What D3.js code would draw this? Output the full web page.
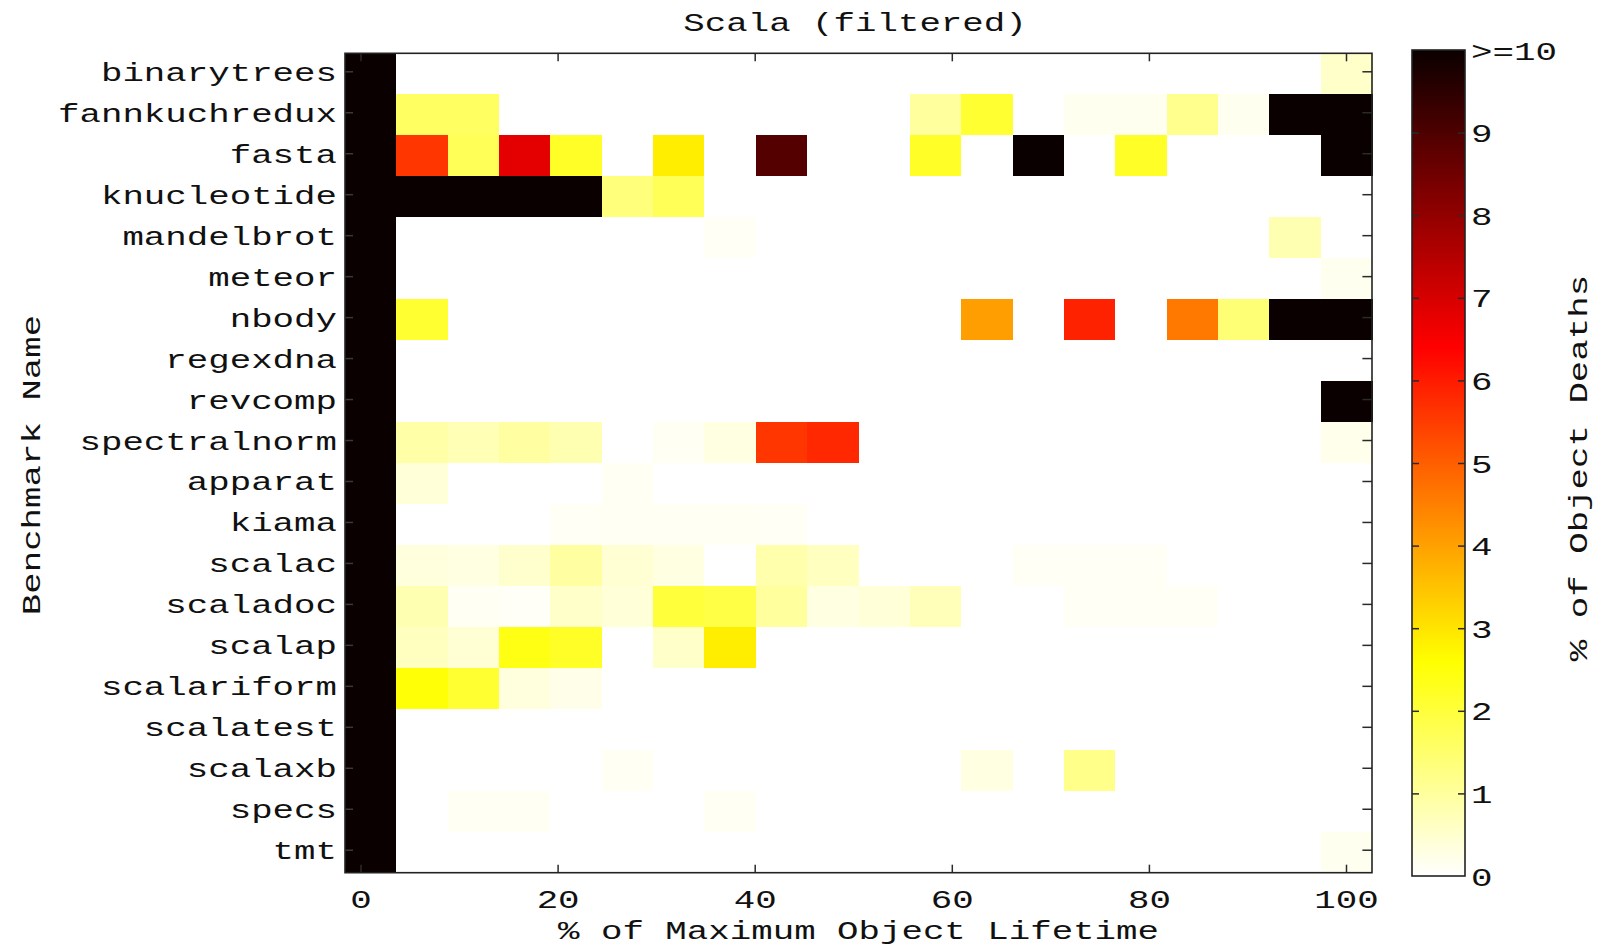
<!DOCTYPE html>
<html>
<head>
<meta charset="utf-8">
<script src="https://cdn.jsdelivr.net/npm/d3@7/dist/d3.min.js"></script>
<style>
  html, body { margin: 0; padding: 0; background: #ffffff; }
  svg { display: block; }
  text { font-family: "Liberation Mono", "Courier New", monospace; fill: #111; }
</style>
</head>
<body>
<svg id="chart" width="1602" height="948"></svg>
<script>
// Benchmarks, top to bottom
const benchmarks = [
  "binarytrees", "fannkuchredux", "fasta", "knucleotide", "mandelbrot",
  "meteor", "nbody", "regexdna", "revcomp", "spectralnorm",
  "apparat", "kiama", "scalac", "scaladoc", "scalap",
  "scalariform", "scalatest", "scalaxb", "specs", "tmt"
];

// Lifetime bins (20 equal slices of the maximum object lifetime)
const bins = d3.range(20);

// % of object deaths per benchmark and bin (10 stands for ">=10")
const binarytrees   = [10,0,0,0,0,0,0,0,0,0,0,0,0,0,0,0,0,0,0,0.55];
const fannkuchredux = [10,1.6,1.6,0,0,0,0,0,0,0,0,1.0,2.1,0,0.15,0.15,1.15,0.15,10,10];
const fasta         = [10,5.6,1.7,6.8,2.2,0,2.85,0,8.9,0,0,2.2,0,10,0,2.2,0,0,0,10];
const knucleotide   = [10,10,10,10,10,1.35,1.7,0,0,0,0,0,0,0,0,0,0,0,0,0];
const mandelbrot    = [10,0,0,0,0,0,0,0.1,0,0,0,0,0,0,0,0,0,0,0.8,0];
const meteor        = [10,0,0,0,0,0,0,0,0,0,0,0,0,0,0,0,0,0,0,0.15];
const nbody         = [10,2.1,0,0,0,0,0,0,0,0,0,0,4.05,0,5.9,0,4.6,1.4,10,10];
const regexdna      = [10,0,0,0,0,0,0,0,0,0,0,0,0,0,0,0,0,0,0,0];
const revcomp       = [10,0,0,0,0,0,0,0,0,0,0,0,0,0,0,0,0,0,0,10];
const spectralnorm  = [10,0.9,0.75,0.95,0.8,0,0.12,0.3,5.6,5.8,0,0,0,0,0,0,0,0,0,0.2];
const apparat       = [10,0.4,0,0,0,0.12,0,0,0,0,0,0,0,0,0,0,0,0,0,0];
const kiama         = [10,0,0,0,0.1,0.12,0.12,0.12,0.1,0,0,0,0,0,0,0,0,0,0,0];
const scalac        = [10,0.35,0.3,0.5,0.95,0.45,0.3,0,0.85,0.65,0,0,0,0.1,0.1,0.1,0,0,0,0];
const scaladoc      = [10,0.8,0.12,0.08,0.55,0.4,2.0,1.9,1.0,0.3,0.4,0.7,0,0,0.1,0.1,0.1,0,0,0];
const scalap        = [10,0.65,0.45,2.4,2.2,0,0.55,2.85,0,0,0,0,0,0,0,0,0,0,0,0];
const scalariform   = [10,2.55,2.1,0.35,0.22,0,0,0,0,0,0,0,0,0,0,0,0,0,0,0];
const scalatest     = [10,0,0,0,0,0,0,0,0,0,0,0,0,0,0,0,0,0,0,0];
const scalaxb       = [10,0,0,0,0,0.12,0,0,0,0,0,0,0.3,0,1.2,0,0,0,0,0];
const specs         = [10,0,0.12,0.12,0,0,0,0.12,0,0,0,0,0,0,0,0,0,0,0,0];
const tmt           = [10,0,0,0,0,0,0,0,0,0,0,0,0,0,0,0,0,0,0,0.15];

const deaths = [
  binarytrees, fannkuchredux, fasta, knucleotide, mandelbrot,
  meteor, nbody, regexdna, revcomp, spectralnorm,
  apparat, kiama, scalac, scaladoc, scalap,
  scalariform, scalatest, scalaxb, specs, tmt
];

// Axis ticks and labels
const xTicks = [0, 20, 40, 60, 80, 100];
const cbTicks = [0, 1, 2, 3, 4, 5, 6, 7, 8, 9, 10];
const cbTickLabels = ["0", "1", "2", "3", "4", "5", "6", "7", "8", "9", ">=10"];

const titleText = "Scala (filtered)";
const xLabelText = "% of Maximum Object Lifetime";
const yLabelText = "Benchmark Name";
const cbLabelText = "% of Object Deaths";

// ---- layout ----
const FONT = 26.5;
const STRETCH = 1.35;            // the wide typewriter lettering
const plot = { left: 345, top: 53.3, right: 1372, bottom: 872.7 };
const bar = { left: 1412, right: 1465, top: 50, bottom: 876 };
const TICK = 8;

const svg = d3.select("#chart");

// cells
const x = d3.scaleBand().domain(bins).range([plot.left, plot.right]).padding(0);
const y = d3.scaleBand().domain(benchmarks).range([plot.top, plot.bottom]).padding(0);
// percentage axis: 0 and 100 sit slightly inside the image frame
const xPct = d3.scaleLinear().domain([0, 100])
  .range([plot.left + 15.5, plot.right - 26]);

const color = d3.scaleLinear()
  .domain([0, 2.6, 6.4, 10])
  .range(["#ffffff", "#ffff00", "#ff0000", "#0a0000"])
  .clamp(true);

const cells = [];
deaths.forEach((row, i) => row.forEach((v, j) => cells.push({ b: benchmarks[i], bin: j, v })));

svg.append("g")
  .attr("shape-rendering", "crispEdges")
  .selectAll("rect")
  .data(cells)
  .join("rect")
  .attr("x", d => x(d.bin))
  .attr("y", d => y(d.b))
  .attr("width", x.bandwidth() + 0.5)
  .attr("height", y.bandwidth() + 0.5)
  .attr("fill", d => color(d.v));

function stretchText(sel, dx, dy) {
  sel.attr("x", null).attr("y", null).attr("dy", null)
    .attr("transform", `translate(${dx},${dy}) scale(${STRETCH},1)`);
}

function styleAxis(g) {
  g.select(".domain").remove();
  g.selectAll(".tick line").attr("stroke", "#2a2a2a").attr("stroke-width", 1.5);
  g.selectAll("text").attr("font-size", FONT).attr("fill", "#111")
    .attr("font-family", "Liberation Mono, Courier New, monospace");
}

// bottom axis with labels
const gx = svg.append("g")
  .attr("transform", `translate(0,${plot.bottom})`)
  .call(d3.axisBottom(xPct).tickValues(xTicks).tickSizeInner(-TICK).tickSizeOuter(0));
styleAxis(gx);
gx.selectAll("text").attr("text-anchor", "middle").call(stretchText, 0, 35.5);

// top axis, ticks only
const gxt = svg.append("g")
  .attr("transform", `translate(0,${plot.top})`)
  .call(d3.axisTop(xPct).tickValues(xTicks).tickSizeInner(-TICK).tickSizeOuter(0).tickFormat(""));
styleAxis(gxt);

// left axis with benchmark names
const gy = svg.append("g")
  .attr("transform", `translate(${plot.left},0)`)
  .call(d3.axisLeft(y).tickSizeInner(-TICK).tickSizeOuter(0));
styleAxis(gy);
gy.selectAll(".tick").attr("transform", d => `translate(0,${y(d) + y.bandwidth() / 2 - 2})`);
gy.selectAll(".tick line").attr("stroke", "#3a3a3a");
gy.selectAll("text").attr("text-anchor", "end").call(stretchText, -8, 9);

// right axis, ticks only
const gyr = svg.append("g")
  .attr("transform", `translate(${plot.right},0)`)
  .call(d3.axisRight(y).tickSizeInner(-TICK * 1.2).tickSizeOuter(0).tickFormat(""));
styleAxis(gyr);
gyr.selectAll(".tick").attr("transform", d => `translate(0,${y(d) + y.bandwidth() / 2 - 2})`);

// plot frame
svg.append("rect")
  .attr("x", plot.left).attr("y", plot.top)
  .attr("width", plot.right - plot.left).attr("height", plot.bottom - plot.top)
  .attr("fill", "none").attr("stroke", "#222").attr("stroke-width", 1.6);

// ---- colour box ----
const cb = d3.scaleLinear().domain([0, 10]).range([bar.bottom, bar.top]);
const defs = svg.append("defs");
const grad = defs.append("linearGradient")
  .attr("id", "cbgrad").attr("x1", 0).attr("y1", 1).attr("x2", 0).attr("y2", 0);
d3.range(0, 10.001, 0.1).forEach(v => {
  grad.append("stop").attr("offset", (v / 10)).attr("stop-color", color(v));
});
svg.append("rect")
  .attr("x", bar.left).attr("y", bar.top)
  .attr("width", bar.right - bar.left).attr("height", bar.bottom - bar.top)
  .attr("fill", "url(#cbgrad)")
  .attr("stroke", "#222").attr("stroke-width", 1.6);

const gcb = svg.append("g")
  .attr("transform", `translate(${bar.right},0)`)
  .call(d3.axisRight(cb).tickValues(cbTicks).tickSizeInner(-7).tickSizeOuter(0)
    .tickFormat((d, i) => cbTickLabels[i]));
styleAxis(gcb);
gcb.selectAll(".tick").filter(d => d === 0 || d === 10).select("line").remove();
gcb.selectAll("text").attr("text-anchor", "start").call(stretchText, 6, 9);

const gcbl = svg.append("g")
  .attr("transform", `translate(${bar.left},0)`)
  .call(d3.axisLeft(cb).tickValues(cbTicks.slice(1, -1)).tickSizeInner(-7).tickSizeOuter(0).tickFormat(""));
styleAxis(gcbl);

// ---- titles ----
function label(text, cx, cy, rotate) {
  svg.append("text")
    .attr("text-anchor", "middle")
    .attr("font-size", FONT)
    .attr("transform", `translate(${cx},${cy}) rotate(${rotate}) scale(${STRETCH},1)`)
    .attr("dy", "0.35em")
    .text(text);
}
label(titleText, 855, 22, 0);
label(xLabelText, (plot.left + plot.right) / 2, 930, 0);
label(yLabelText, 31, 465, -90);
label(cbLabelText, 1578, 468, -90);
</script>
</body>
</html>
